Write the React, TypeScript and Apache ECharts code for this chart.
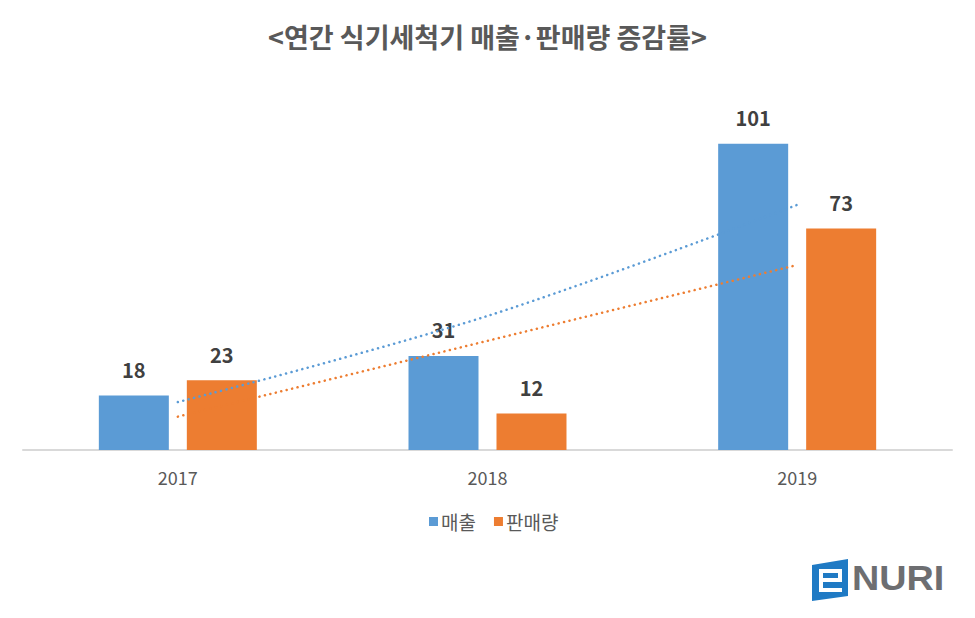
import React, { useEffect, useRef } from "react";
import * as echarts from "echarts";

const categories = ["2017", "2018", "2019"];
const salesValues = [18, 31, 101];
const volumeValues = [23, 12, 73];
// trendlines (value at each category centre)
const salesTrend = [15.8, 44.2, 80.8];
const volumeTrend = [11, 36, 61];

const FONT = '"Noto Sans CJK KR", "Noto Sans", sans-serif';
const BLUE = "#5B9BD5";
const ORANGE = "#ED7D31";

export default function App() {
  const ref = useRef<HTMLDivElement>(null);
  useEffect(() => {
    if (!ref.current) return;
    const chart = echarts.init(ref.current, undefined, { renderer: "svg" });
    const label = {
      show: true,
      position: "top" as const,
      distance: 16,
      fontFamily: FONT,
      fontWeight: "bold" as const,
      fontSize: 20,
      color: "#404040",
    };
    chart.setOption({
      animation: false,
      backgroundColor: "#ffffff",
      title: {
        text: "<연간 식기세척기 매출·판매량 증감률>",
        left: "center",
        top: 18,
        textStyle: { fontFamily: FONT, fontSize: 27, fontWeight: "bold", color: "#595959" },
      },
      legend: {
        data: ["매출", "판매량"],
        left: 424,
        top: 507,
        icon: "rect",
        itemWidth: 9,
        itemHeight: 9,
        itemGap: 18,
        textStyle: { fontFamily: FONT, fontSize: 19, color: "#595959", padding: [0, 0, 0, -2] },
      },
      grid: { left: 23, right: 23, top: 86, bottom: 168 },
      xAxis: {
        type: "category",
        data: categories,
        axisLine: { lineStyle: { color: "#d9d9d9", width: 2 } },
        axisTick: { show: false },
        axisLabel: { fontFamily: FONT, fontSize: 18, color: "#595959", margin: 18 },
      },
      yAxis: { type: "value", min: 0, max: 120, show: false, splitLine: { show: false } },
      series: [
        {
          name: "매출",
          type: "bar",
          data: salesValues,
          barWidth: 70,
          barGap: "25.7%",
          itemStyle: { color: BLUE },
          label,
        },
        {
          name: "판매량",
          type: "bar",
          data: volumeValues,
          barWidth: 70,
          itemStyle: { color: ORANGE },
          label,
        },
        {
          name: "매출 추세",
          type: "line",
          data: salesTrend,
          smooth: 0.35,
          symbol: "none",
          z: 5,
          lineStyle: { color: BLUE, width: 2.5, type: [0.1, 5.5], cap: "round" },
        },
        {
          name: "판매량 추세",
          type: "line",
          data: volumeTrend,
          symbol: "none",
          z: 5,
          lineStyle: { color: ORANGE, width: 2.5, type: [0.1, 5.5], cap: "round" },
        },
      ],
      graphic: [
        {
          type: "polygon",
          shape: { points: [[812, 565], [848, 559], [848, 596], [812, 601]] },
          style: { fill: "#1f7ac4" },
        },
        { type: "rect", shape: { x: 819, y: 569, width: 23, height: 4 }, style: { fill: "#fff" } },
        { type: "rect", shape: { x: 819, y: 569, width: 4, height: 23 }, style: { fill: "#fff" } },
        { type: "rect", shape: { x: 838, y: 569, width: 4, height: 13 }, style: { fill: "#fff" } },
        { type: "rect", shape: { x: 819, y: 578, width: 23, height: 4 }, style: { fill: "#fff" } },
        { type: "rect", shape: { x: 819, y: 588, width: 23, height: 4 }, style: { fill: "#fff" } },
        {
          type: "text",
          x: 852,
          y: 578,
          scaleX: 1.08,
          style: {
            text: "NURI",
            fontFamily: '"Liberation Sans", Arial, sans-serif',
            fontWeight: "bold",
            fontSize: 35,
            fill: "#6d6e71",
            textVerticalAlign: "middle",
            verticalAlign: "middle",
          },
        },
      ],
    });
    return () => chart.dispose();
  }, []);
  return <div ref={ref} style={{ width: 975, height: 618, margin: -8 }} />;
}
